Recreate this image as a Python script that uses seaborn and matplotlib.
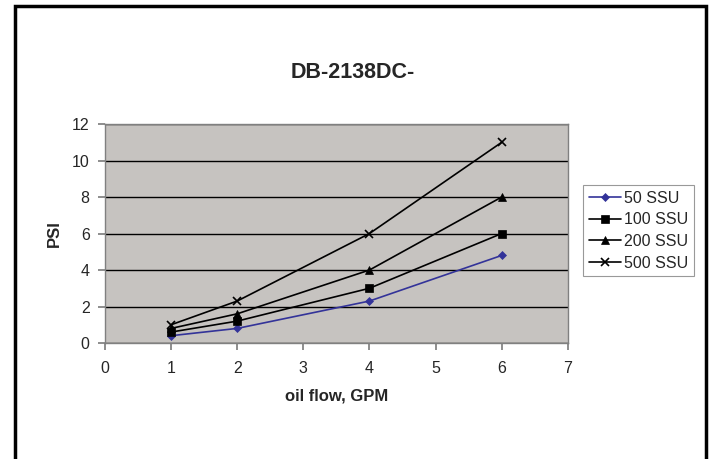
import matplotlib
matplotlib.use("Agg")
import matplotlib.pyplot as plt
from matplotlib.patches import Rectangle
import seaborn as sns
import pandas as pd

sns.set_theme(style="white")
plt.rcParams["font.family"] = ["Liberation Sans", "DejaVu Sans"]

flow = [1, 2, 4, 6]
psi_50 = [0.4, 0.8, 2.3, 4.8]
psi_100 = [0.6, 1.2, 3.0, 6.0]
psi_200 = [0.8, 1.6, 4.0, 8.0]
psi_500 = [1.0, 2.3, 6.0, 11.0]
series = ["50 SSU", "100 SSU", "200 SSU", "500 SSU"]
x_ticks = [0, 1, 2, 3, 4, 5, 6, 7]
y_ticks = [0, 2, 4, 6, 8, 10, 12]

df = pd.DataFrame({
    "flow": flow * 4,
    "psi": psi_50 + psi_100 + psi_200 + psi_500,
    "series": sum([[s] * len(flow) for s in series], []),
})

colors = {"50 SSU": "#333399", "100 SSU": "black", "200 SSU": "black", "500 SSU": "black"}
markers = {"50 SSU": "D", "100 SSU": "s", "200 SSU": "^", "500 SSU": "x"}
msizes = {"50 SSU": 4, "100 SSU": 5.5, "200 SSU": 6, "500 SSU": 6}

fig = plt.figure(figsize=(7.17, 4.59), dpi=100)
ax = fig.add_axes([0.1464, 0.2527, 0.6456, 0.4771])
ax.set_facecolor("#c6c3c0")

for s in series:
    d = df[df["series"] == s]
    mk = markers[s]
    ax.plot(d["flow"], d["psi"], color=colors[s], marker=mk, markersize=msizes[s],
            linewidth=1.2, markeredgewidth=1.2 if mk == "x" else 0.5,
            label=s, zorder=3)

ax.set_xlim(0, 7)
ax.set_ylim(0, 12)
ax.set_xticks(x_ticks)
ax.set_yticks(y_ticks)
ax.yaxis.grid(True, color="black", linewidth=1.0)
ax.set_axisbelow(True)
for sp in ax.spines.values():
    sp.set_color("#808080")
    sp.set_linewidth(1.0)
ax.tick_params(axis="both", labelsize=11.5, length=5, color="#808080", direction="out",
               bottom=True, left=True)
ax.tick_params(axis="x", pad=8)
ax.tick_params(axis="y", pad=6)

ax.set_xlabel("oil flow, GPM", fontsize=12, fontweight="bold", labelpad=9)
ax.set_ylabel("PSI", fontsize=12, fontweight="bold", labelpad=7)
fig.text(353 / 717, 1 - 72 / 459, "DB-2138DC-", ha="center", va="center",
         fontsize=15.5, fontweight="bold")

leg = fig.legend(*ax.get_legend_handles_labels(), loc="upper left",
                 bbox_to_anchor=(583 / 717, 1 - 185 / 459), borderaxespad=0,
                 frameon=True, fontsize=11.5, handlelength=2.0, handletextpad=0.2,
                 borderpad=0.35, labelspacing=0.42, fancybox=False,
                 edgecolor="#808080")
leg.get_frame().set_linewidth(0.8)

fig.patches.append(Rectangle((15 / 717, -0.05), 691 / 717, 1.05 - 6 / 459,
                             transform=fig.transFigure, fill=False,
                             edgecolor="black", linewidth=2.5))

fig.savefig("out.png", dpi=100)
